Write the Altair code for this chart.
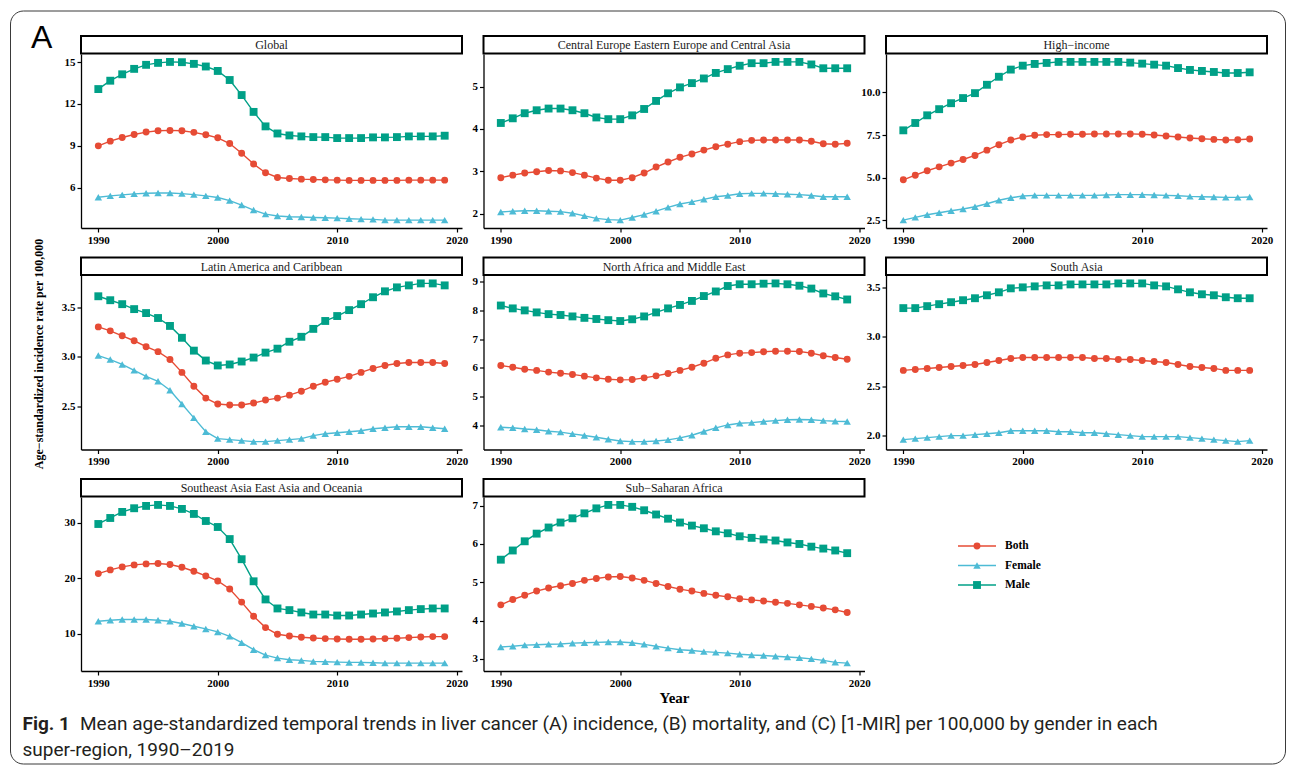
import altair as alt
import pandas as pd

years = list(range(1990, 2020))
sexes = ["Both", "Female", "Male"]
colors = ["#E64B35", "#4DBBD5", "#00A087"]
shapes = ["circle", "triangle-up", "square"]
sizes = [48, 62, 44]

regions = [
    "Global",
    "Central Europe Eastern Europe and Central Asia",
    "High\u2212income",
    "Latin America and Caribbean",
    "North Africa and Middle East",
    "South Asia",
    "Southeast Asia East Asia and Oceania",
    "Sub\u2212Saharan Africa",
]

global_both = [8.99, 9.33, 9.59, 9.81, 9.98, 10.08, 10.10, 10.08, 9.96, 9.79, 9.57, 9.16, 8.46, 7.69, 7.06,
               6.72, 6.65, 6.60, 6.58, 6.55, 6.53, 6.51, 6.51, 6.51, 6.51, 6.51, 6.53, 6.53, 6.53, 6.53]
global_female = [5.30, 5.40, 5.47, 5.54, 5.59, 5.61, 5.61, 5.56, 5.49, 5.40, 5.28, 5.06, 4.74, 4.38, 4.09,
                 3.95, 3.90, 3.88, 3.85, 3.83, 3.80, 3.76, 3.73, 3.71, 3.66, 3.66, 3.66, 3.66, 3.66, 3.66]
global_male = [13.07, 13.67, 14.13, 14.52, 14.81, 14.95, 15.02, 15.00, 14.88, 14.69, 14.37, 13.72, 12.64, 11.43, 10.39,
               9.88, 9.74, 9.67, 9.62, 9.62, 9.55, 9.55, 9.55, 9.60, 9.60, 9.62, 9.67, 9.67, 9.67, 9.72]

ce_both = [2.85, 2.91, 2.96, 2.99, 3.02, 3.01, 2.97, 2.91, 2.84, 2.79, 2.79, 2.85, 2.96, 3.10, 3.22,
           3.33, 3.41, 3.50, 3.58, 3.64, 3.70, 3.73, 3.74, 3.74, 3.74, 3.74, 3.71, 3.65, 3.64, 3.66]
ce_female = [2.04, 2.06, 2.07, 2.07, 2.06, 2.05, 2.01, 1.95, 1.89, 1.86, 1.85, 1.91, 1.98, 2.06, 2.15,
             2.23, 2.28, 2.34, 2.40, 2.43, 2.47, 2.48, 2.48, 2.47, 2.46, 2.45, 2.43, 2.40, 2.40, 2.40]
ce_male = [4.14, 4.25, 4.37, 4.44, 4.48, 4.48, 4.44, 4.37, 4.27, 4.23, 4.23, 4.32, 4.47, 4.66, 4.84,
           4.98, 5.08, 5.19, 5.32, 5.41, 5.49, 5.55, 5.55, 5.58, 5.58, 5.58, 5.52, 5.43, 5.43, 5.43]

hi_both = [4.88, 5.15, 5.41, 5.64, 5.86, 6.07, 6.31, 6.62, 6.94, 7.21, 7.39, 7.49, 7.53, 7.53, 7.55,
           7.55, 7.57, 7.57, 7.57, 7.57, 7.55, 7.51, 7.45, 7.39, 7.33, 7.29, 7.25, 7.21, 7.23, 7.27]
hi_female = [2.52, 2.68, 2.83, 2.95, 3.07, 3.17, 3.30, 3.48, 3.68, 3.83, 3.93, 3.97, 3.97, 3.97, 3.97,
             3.97, 3.97, 3.99, 4.01, 4.01, 4.01, 3.99, 3.97, 3.95, 3.91, 3.89, 3.87, 3.85, 3.85, 3.87]
hi_male = [7.78, 8.21, 8.66, 9.02, 9.37, 9.67, 9.96, 10.45, 10.92, 11.34, 11.57, 11.67, 11.73, 11.79, 11.79,
           11.79, 11.79, 11.79, 11.79, 11.75, 11.69, 11.63, 11.57, 11.43, 11.32, 11.26, 11.20, 11.14, 11.14, 11.18]

la_both = [3.30, 3.26, 3.21, 3.16, 3.10, 3.05, 2.97, 2.84, 2.70, 2.58, 2.52, 2.51, 2.51, 2.53, 2.56,
           2.58, 2.61, 2.65, 2.70, 2.74, 2.77, 2.80, 2.84, 2.88, 2.91, 2.93, 2.94, 2.94, 2.94, 2.93]
la_female = [3.01, 2.97, 2.92, 2.86, 2.80, 2.75, 2.66, 2.52, 2.38, 2.24, 2.17, 2.16, 2.15, 2.14, 2.14,
             2.15, 2.16, 2.17, 2.20, 2.22, 2.23, 2.24, 2.25, 2.27, 2.28, 2.29, 2.29, 2.29, 2.28, 2.27]
la_male = [3.61, 3.57, 3.53, 3.48, 3.44, 3.39, 3.31, 3.19, 3.06, 2.96, 2.91, 2.92, 2.95, 2.99, 3.04,
           3.08, 3.15, 3.20, 3.28, 3.36, 3.41, 3.47, 3.53, 3.60, 3.66, 3.70, 3.72, 3.74, 3.74, 3.72]

na_both = [6.08, 6.02, 5.95, 5.91, 5.85, 5.81, 5.77, 5.71, 5.65, 5.60, 5.58, 5.59, 5.65, 5.72, 5.80,
           5.91, 6.02, 6.16, 6.33, 6.45, 6.51, 6.53, 6.56, 6.58, 6.58, 6.57, 6.51, 6.42, 6.36, 6.30]
na_female = [3.93, 3.91, 3.87, 3.84, 3.79, 3.76, 3.70, 3.64, 3.58, 3.51, 3.45, 3.43, 3.43, 3.45, 3.49,
             3.56, 3.65, 3.78, 3.91, 4.01, 4.07, 4.09, 4.13, 4.16, 4.19, 4.20, 4.19, 4.16, 4.14, 4.13]
na_male = [8.17, 8.07, 8.00, 7.93, 7.87, 7.84, 7.79, 7.74, 7.70, 7.66, 7.63, 7.69, 7.79, 7.93, 8.07,
           8.19, 8.33, 8.50, 8.66, 8.85, 8.91, 8.91, 8.93, 8.94, 8.91, 8.86, 8.76, 8.59, 8.49, 8.38]

sa_both = [2.66, 2.67, 2.68, 2.69, 2.70, 2.71, 2.72, 2.74, 2.76, 2.78, 2.79, 2.79, 2.79, 2.79, 2.79,
           2.79, 2.78, 2.78, 2.77, 2.77, 2.76, 2.75, 2.74, 2.72, 2.70, 2.69, 2.68, 2.66, 2.66, 2.66]
sa_female = [1.96, 1.97, 1.98, 1.99, 2.00, 2.00, 2.01, 2.02, 2.03, 2.05, 2.05, 2.05, 2.05, 2.04, 2.04,
             2.03, 2.03, 2.02, 2.01, 2.00, 1.99, 1.99, 1.99, 1.99, 1.98, 1.97, 1.96, 1.95, 1.94, 1.95]
sa_male = [3.29, 3.29, 3.31, 3.33, 3.35, 3.37, 3.39, 3.42, 3.45, 3.49, 3.50, 3.51, 3.52, 3.52, 3.53,
           3.53, 3.53, 3.53, 3.54, 3.54, 3.54, 3.52, 3.51, 3.48, 3.45, 3.43, 3.42, 3.40, 3.39, 3.39]

se_both = [20.84, 21.51, 22.05, 22.41, 22.59, 22.65, 22.47, 21.99, 21.27, 20.42, 19.52, 18.07, 15.72, 13.19, 11.14,
           9.94, 9.64, 9.40, 9.28, 9.16, 9.10, 9.04, 9.04, 9.10, 9.16, 9.22, 9.34, 9.46, 9.52, 9.52]
se_female = [12.29, 12.47, 12.59, 12.59, 12.59, 12.47, 12.29, 11.87, 11.39, 10.90, 10.36, 9.58, 8.43, 7.17, 6.20,
             5.66, 5.36, 5.24, 5.06, 5.00, 4.94, 4.88, 4.88, 4.82, 4.76, 4.76, 4.76, 4.76, 4.76, 4.76]
se_male = [29.76, 30.84, 31.93, 32.59, 33.01, 33.19, 33.01, 32.47, 31.57, 30.30, 29.22, 27.05, 23.43, 19.46, 16.20,
           14.58, 14.28, 13.86, 13.49, 13.49, 13.31, 13.31, 13.49, 13.67, 13.86, 14.04, 14.28, 14.46, 14.58, 14.58]

ss_both = [4.41, 4.55, 4.66, 4.77, 4.85, 4.91, 4.97, 5.05, 5.10, 5.14, 5.15, 5.11, 5.05, 4.97, 4.89,
           4.82, 4.77, 4.71, 4.66, 4.62, 4.57, 4.54, 4.51, 4.48, 4.45, 4.41, 4.37, 4.33, 4.28, 4.21]
ss_female = [3.31, 3.33, 3.36, 3.37, 3.38, 3.39, 3.41, 3.42, 3.43, 3.44, 3.44, 3.42, 3.38, 3.33, 3.28,
             3.24, 3.22, 3.19, 3.17, 3.15, 3.12, 3.10, 3.09, 3.07, 3.05, 3.03, 3.00, 2.96, 2.91, 2.89]
ss_male = [5.59, 5.83, 6.07, 6.27, 6.43, 6.56, 6.67, 6.80, 6.93, 7.02, 7.02, 6.97, 6.88, 6.77, 6.66,
           6.56, 6.48, 6.41, 6.33, 6.28, 6.20, 6.16, 6.12, 6.09, 6.04, 6.00, 5.93, 5.88, 5.83, 5.76]

series = {
    regions[0]: (global_both, global_female, global_male),
    regions[1]: (ce_both, ce_female, ce_male),
    regions[2]: (hi_both, hi_female, hi_male),
    regions[3]: (la_both, la_female, la_male),
    regions[4]: (na_both, na_female, na_male),
    regions[5]: (sa_both, sa_female, sa_male),
    regions[6]: (se_both, se_female, se_male),
    regions[7]: (ss_both, ss_female, ss_male),
}

y_ticks = {
    regions[0]: ([6, 9, 12, 15], "d"),
    regions[1]: ([2, 3, 4, 5], "d"),
    regions[2]: ([2.5, 5.0, 7.5, 10.0], ".1f"),
    regions[3]: ([2.5, 3.0, 3.5], ".1f"),
    regions[4]: ([4, 5, 6, 7, 8, 9], "d"),
    regions[5]: ([2.0, 2.5, 3.0, 3.5], ".1f"),
    regions[6]: ([10, 20, 30], "d"),
    regions[7]: ([3, 4, 5, 6, 7], "d"),
}
x_ticks = [1990, 2000, 2010, 2020]

y_title = "Age\u2212standardized incidence rate per 100,000"
x_title = "Year"
panel_tag = "A"
caption_bold = "Fig. 1"
caption_line1 = ("Mean age-standardized temporal trends in liver cancer (A) incidence, (B) mortality, "
                 "and (C) [1-MIR] per 100,000 by gender in each")
caption_line2 = "super-region, 1990\u20132019"

W, H = 381, 174
COL_SP, ROW_SP = 21.5, 47.5
SERIF = "Liberation Serif"
CAP_FONT = "Roboto"
CAP_SIZE = 19

color_enc = alt.Color("sex:N", scale=alt.Scale(domain=sexes, range=colors), legend=None)
shape_enc = alt.Shape("sex:N", scale=alt.Scale(domain=sexes, range=shapes), legend=None)
size_enc = alt.Size("sex:O", scale=alt.Scale(domain=sexes, range=sizes), legend=None)


def panel(name):
    b, f, m = series[name]
    df = pd.DataFrame({
        "Year": years * 3,
        "sex": ["Both"] * 30 + ["Female"] * 30 + ["Male"] * 30,
        "value": b + f + m,
    })
    lo, hi = min(b + f + m), max(b + f + m)
    pad = 0.05 * (hi - lo)
    vals, fmt = y_ticks[name]

    yaxis_kw = dict(values=vals, format=fmt)
    if name == regions[3]:
        yaxis_kw.update(title=y_title, titleX=-39, titleY=78, titleAngle=270,
                        titleAlign="center", titleBaseline="alphabetic", titleFontSize=12)
    else:
        yaxis_kw.update(title=None)
    xaxis_kw = dict(values=x_ticks, format="d", labelFlush=False)
    if name == regions[7]:
        xaxis_kw.update(title=x_title, titleY=31, titleBaseline="alphabetic", titleFontSize=15)
    else:
        xaxis_kw.update(title=None)

    x = alt.X("Year:Q", scale=alt.Scale(domain=[1988.55, 2020.45], nice=False, zero=False),
              axis=alt.Axis(**xaxis_kw))
    y = alt.Y("value:Q", scale=alt.Scale(domain=[lo - pad, hi + pad], nice=False, zero=False),
              axis=alt.Axis(**yaxis_kw))
    base = alt.Chart(df).encode(x=x, y=y, color=color_enc)
    lines = base.mark_line(strokeWidth=1.4)
    pts = base.mark_point(filled=True, opacity=1).encode(shape=shape_enc, size=size_enc)

    strip_df = pd.DataFrame({"label": [name]})
    strip = alt.Chart(strip_df).mark_rect(fill="white", stroke="black", strokeWidth=2).encode(
        x=alt.value(0), x2=alt.value(W), y=alt.value(-18), y2=alt.value(-0.5))
    strip_txt = alt.Chart(strip_df).mark_text(font=SERIF, fontSize=12, color="#1a1a1a",
                                              baseline="middle", align="center").encode(
        x=alt.value(W / 2), y=alt.value(-9), text="label:N")
    layers = [strip, strip_txt, lines, pts]

    if name == regions[0]:
        border_df = pd.DataFrame({"k": [0]})
        border = alt.Chart(border_df).mark_rect(fillOpacity=0, stroke="#3a3a3a", strokeWidth=1,
                                                cornerRadius=13).encode(
            x=alt.value(-70.5), x2=alt.value(1204.5), y=alt.value(-43), y2=alt.value(710))
        tag = alt.Chart(pd.DataFrame({"t": [panel_tag]})).mark_text(
            font="Liberation Sans", fontSize=32, align="left", baseline="alphabetic", color="black").encode(
            x=alt.value(-50), y=alt.value(-6), text="t:N")
        layers = [border, tag] + layers
    if name == regions[6]:
        cap1 = alt.Chart(pd.DataFrame({"t": [caption_bold]})).mark_text(
            font=CAP_FONT, fontSize=CAP_SIZE, fontWeight="bold", align="left",
            baseline="alphabetic", color="#231f20").encode(x=alt.value(-58.5), y=alt.value(233), text="t:N")
        cap2 = alt.Chart(pd.DataFrame({"t": [caption_line1]})).mark_text(
            font=CAP_FONT, fontSize=CAP_SIZE, align="left",
            baseline="alphabetic", color="#231f20").encode(x=alt.value(-1), y=alt.value(233), text="t:N")
        cap3 = alt.Chart(pd.DataFrame({"t": [caption_line2]})).mark_text(
            font=CAP_FONT, fontSize=CAP_SIZE, align="left",
            baseline="alphabetic", color="#231f20").encode(x=alt.value(-58.5), y=alt.value(259), text="t:N")
        layers = layers + [cap1, cap2, cap3]

    return alt.layer(*layers).properties(width=W, height=H)


def legend_panel():
    ldf = pd.DataFrame({"sex": sexes, "idx": [0, 1, 2]})
    yl = alt.Y("idx:Q", scale=alt.Scale(domain=[0, 2], range=[49, 88]), axis=None)
    base = alt.Chart(ldf).encode(y=yl)
    rule = base.mark_rule(strokeWidth=1.4).encode(x=alt.value(72), x2=alt.value(110), color=color_enc)
    pt = base.mark_point(filled=True, opacity=1).encode(x=alt.value(91), color=color_enc,
                                                       shape=shape_enc, size=size_enc)
    txt = base.mark_text(font=SERIF, fontWeight="bold", fontSize=11.5, align="left",
                         baseline="middle", color="black").encode(x=alt.value(119), text="sex:N")
    return alt.layer(rule, pt, txt).properties(width=W, height=H)


panels = [panel(r) for r in regions] + [legend_panel()]

chart = alt.concat(*panels, columns=3, spacing={"row": ROW_SP, "column": COL_SP}, bounds="flush").properties(
    padding={"left": 10, "top": 10, "right": 0, "bottom": 0},
    background="white",
).configure_view(strokeWidth=0).configure_axis(
    labelFont=SERIF, labelFontWeight="bold", labelFontSize=11, labelColor="black",
    labelPadding=2, domainColor="black", domainWidth=1.3, tickColor="black", tickSize=4,
    tickWidth=1.2, grid=False, titleFont=SERIF, titleFontWeight="bold", titleColor="black",
)

chart.save("out.html", embed_options={"renderer": "svg", "actions": False})
